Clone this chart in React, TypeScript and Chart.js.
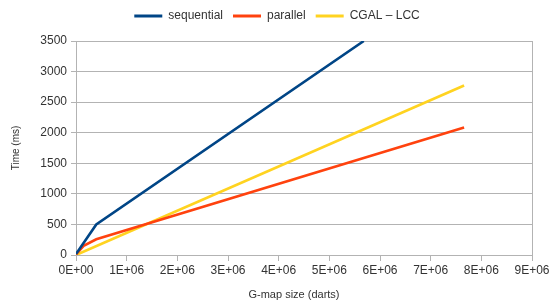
import { useEffect, useRef } from 'react';
import { Chart, registerables } from 'chart.js';
Chart.register(...registerables);

const seqX = [0, 400000, 5680000];
const seqY = [15, 500, 3500];
const parX = [0, 150000, 400000, 7660000];
const parY = [10, 150, 257, 2085];
const cgalX = [0, 7660000];
const cgalY = [0, 2772];
const seriesNames = ['sequential', 'parallel', 'CGAL – LCC'];
const xTickLabels = ['0E+00', '1E+06', '2E+06', '3E+06', '4E+06', '5E+06', '6E+06', '7E+06', '8E+06', '9E+06'];

const pts = (xs: number[], ys: number[]) => xs.map((x, i) => ({ x, y: ys[i] }));

const legendTweak = {
  id: 'legendTweak',
  beforeInit(chart: any) {
    const lg = chart.legend;
    if (!lg) return;
    const of = lg.fit;
    lg.fit = function (...a: any[]) {
      of.apply(this, a);
      this.height += 9;
    };
    const od = lg.draw;
    lg.draw = function (...a: any[]) {
      const ctx = chart.ctx;
      ctx.save();
      ctx.translate(11, 0);
      od.apply(this, a);
      ctx.restore();
    };
  },
};

export default function App() {
  const ref = useRef<HTMLCanvasElement>(null);
  useEffect(() => {
    const font = 'Liberation Sans, Arial, sans-serif';
    const chart = new Chart(ref.current!, {
      type: 'line',
      data: {
        datasets: [
          { label: seriesNames[0], data: pts(seqX, seqY), borderColor: '#004586', backgroundColor: '#004586', borderWidth: 2.6, pointRadius: 0 },
          { label: seriesNames[1], data: pts(parX, parY), borderColor: '#ff420e', backgroundColor: '#ff420e', borderWidth: 2.6, pointRadius: 0 },
          { label: seriesNames[2], data: pts(cgalX, cgalY), borderColor: '#ffd320', backgroundColor: '#ffd320', borderWidth: 2.6, pointRadius: 0 },
        ],
      },
      plugins: [legendTweak],
      options: {
        animation: false,
        responsive: false,
        layout: { padding: { left: 0, right: 27, top: 0, bottom: 0 } },
        plugins: {
          legend: {
            position: 'top',
            labels: {
              boxWidth: 28,
              boxHeight: 3,
              padding: 10,
              color: '#333',
              font: { family: font, size: 12 },
              generateLabels: (c: any) =>
                Chart.defaults.plugins.legend.labels.generateLabels(c).map((l: any) => ({ ...l, lineWidth: 0, strokeStyle: 'rgba(0,0,0,0)' })),
            },
          },
          tooltip: { enabled: false },
        },
        scales: {
          x: {
            type: 'linear',
            min: 0,
            max: 9000000,
            afterFit: (s: any) => {
              s.height = 47;
              if (!s._titleShifted) {
                const o = s.drawTitle;
                s.drawTitle = function (...a: any[]) {
                  const ctx = s.ctx;
                  ctx.save();
                  ctx.translate(-10, 0);
                  o.apply(this, a);
                  ctx.restore();
                };
                s._titleShifted = true;
              }
            },
            ticks: {
              stepSize: 1000000,
              color: '#333',
              font: { family: font, size: 12 },
              padding: 2,
              maxRotation: 0,
              callback: (v: any) => xTickLabels[Math.round(v / 1000000)],
            },
            grid: {
              color: (c: any) => (c.tick && (c.tick.value === 0 || c.tick.value === 9000000) ? '#b3b3b3' : 'rgba(0,0,0,0)'),
              tickColor: '#b3b3b3',
              tickLength: 6,
            },
            border: { color: '#b3b3b3' },
            title: { display: true, text: 'G-map size (darts)', color: '#333', font: { family: font, size: 11 }, padding: { top: 6, bottom: 0 } },
          },
          y: {
            min: 0,
            max: 3500,
            afterFit: (s: any) => { s.width = 76; },
            ticks: {
              stepSize: 250,
              color: '#333',
              font: { family: font, size: 12 },
              padding: 4,
              callback: (v: any) => (v % 500 === 0 ? String(v) : ''),
            },
            grid: {
              color: (c: any) => (c.tick && c.tick.value % 500 === 0 ? '#b3b3b3' : '#dddddd'),
              tickColor: (c: any) => (c.tick && c.tick.value % 500 === 0 ? '#b3b3b3' : 'rgba(0,0,0,0)'),
              tickLength: 5,
            },
            border: { color: '#b3b3b3' },
            title: { display: true, text: 'Time (ms)', color: '#333', font: { family: font, size: 10 }, padding: { top: 10, bottom: 6 } },
          },
        },
      },
    } as any);
    return () => chart.destroy();
  }, []);
  return (
    <div style={{ position: 'fixed', left: 0, top: 0, width: 559, height: 302, background: '#fff' }}>
      <canvas ref={ref} width={559} height={302} style={{ width: 559, height: 302 }} />
    </div>
  );
}
